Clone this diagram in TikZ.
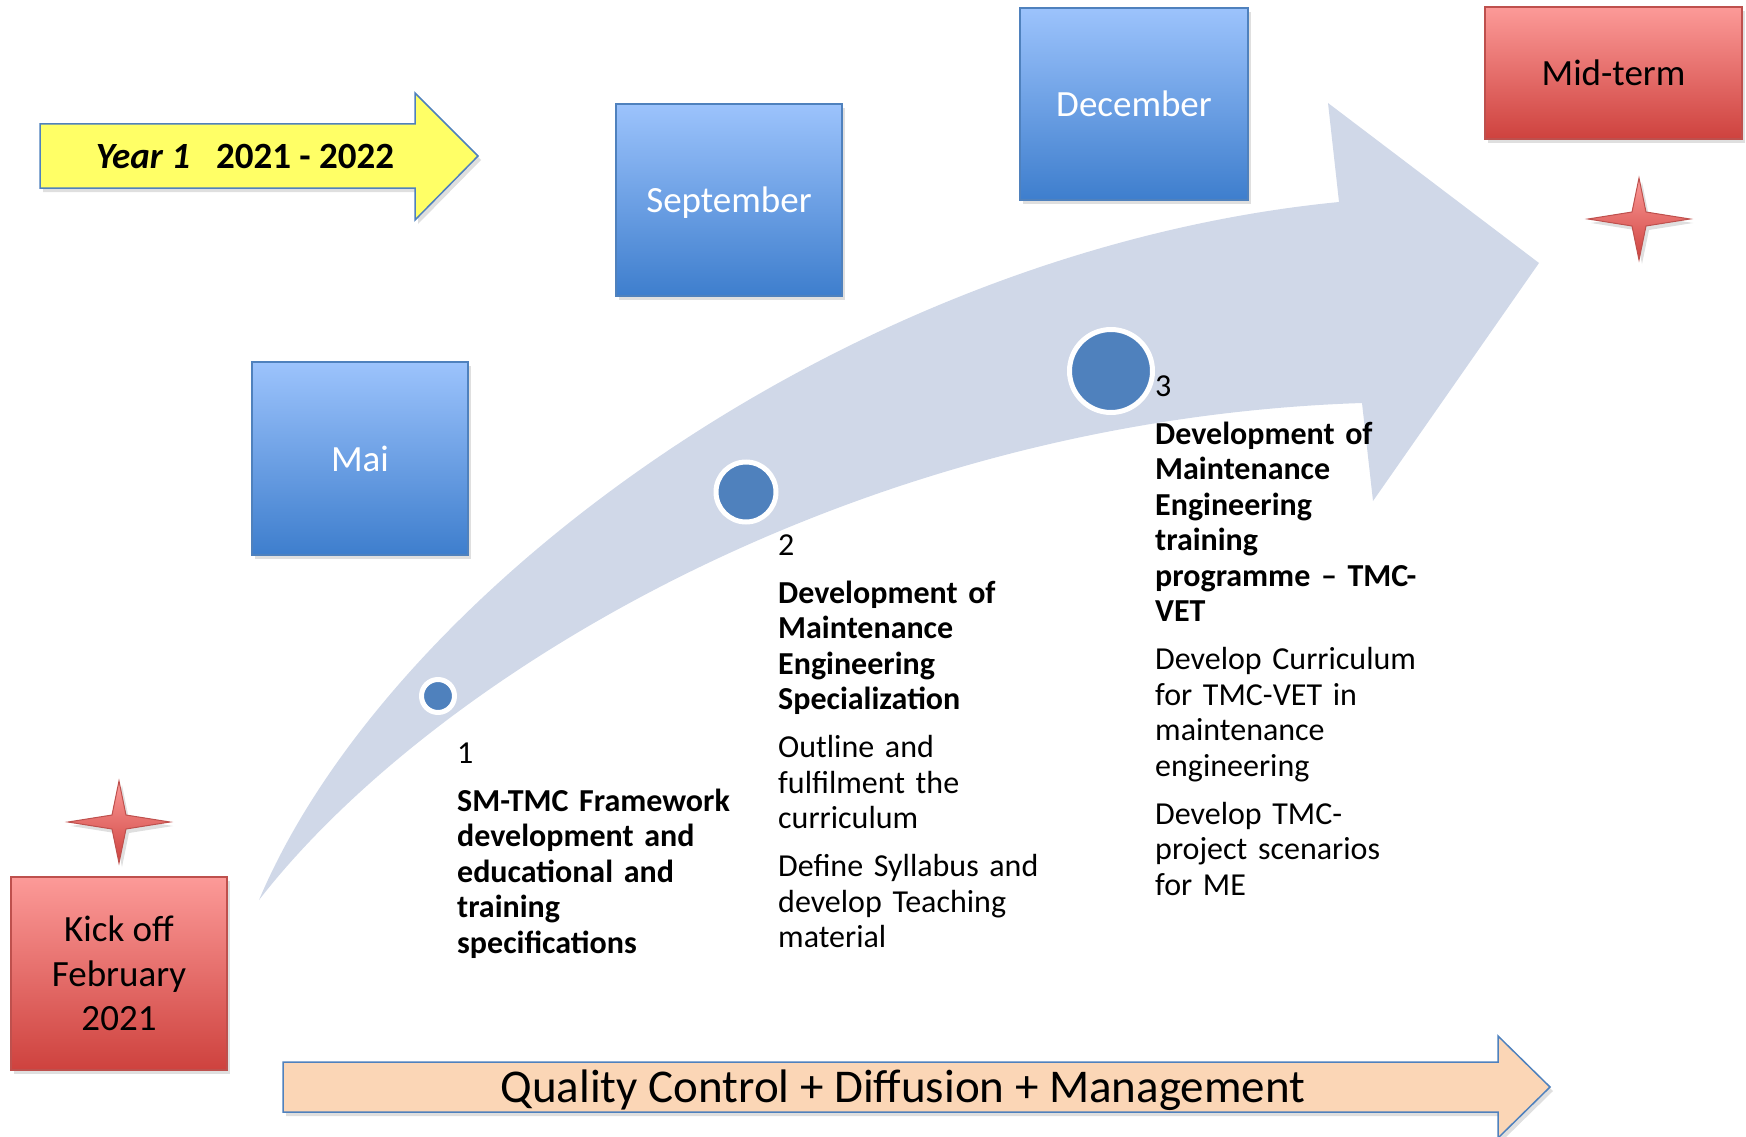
\documentclass[tikz,border=0pt]{standalone}
\usepackage{fontspec}
\setmainfont{Carlito}
\usetikzlibrary{shadows}

\definecolor{flowgray}{RGB}{208,216,232}
\definecolor{dotblue}{RGB}{79,129,189}
\definecolor{boxline}{RGB}{79,129,189}
\definecolor{bluetop}{RGB}{156,195,252}
\definecolor{bluebot}{RGB}{62,126,205}
\definecolor{redtop}{RGB}{252,154,152}
\definecolor{redbot}{RGB}{206,66,62}
\definecolor{redline}{RGB}{190,80,77}
\definecolor{sunyellow}{RGB}{255,255,102}
\definecolor{peach}{RGB}{251,214,182}

\def\fourstar(#1){\draw[redstar, shift={(#1)}] (-51,0) -- (-7,-7) -- (0,-41) -- (7,-7) -- (51,0) -- (7,7) -- (0,41) -- (-7,7) -- cycle;}

\tikzset{
	softshadow/.style={drop shadow={opacity=.25, shadow xshift=3pt, shadow yshift=-4pt}},
	monthbox/.style={draw=boxline, line width=1.5pt, top color=bluetop, bottom color=bluebot, text=white, font=\fontsize{37}{44}\selectfont, inner sep=0pt, text depth=0pt, softshadow},
	redbox/.style={draw=redline, line width=1.5pt, top color=redtop, bottom color=redbot, font=\fontsize{37}{44.5}\selectfont, inner sep=0pt, softshadow},
	redstar/.style={draw=redline, line width=1pt, top color=redtop, bottom color=redbot, softshadow},
	dot/.style={circle, fill=dotblue, draw=white, line width=5pt, inner sep=0pt},
	steptext/.style={anchor=base west, inner sep=0pt, text width=300pt, align=left, font=\fontsize{32}{35.5}\selectfont},
	bandarrow/.style={draw=boxline, line width=1.5pt, line join=miter, softshadow}
}

\begin{document}
\begin{tikzpicture}[x=1pt, y=-1pt]
			%%%%% START %%%%%
			\useasboundingbox (0,0) rectangle (1746,1137);
			
			% big curved arrow
			\fill[flowgray] (259,900) .. controls (390,590) and (850,250) .. (1339,202) -- (1328,103) -- (1539,263) -- (1373,501) -- (1362,403) .. controls (850,420) and (430,680) .. (259,900) -- cycle;
			
			\node[dot, minimum size=33pt] (d1) at (438,696) {};
			\node[dot, minimum size=60pt] (d2) at (746,492) {};
			\node[dot, minimum size=83pt] (d3) at (1111,371) {};
			
			% year arrow
			\draw[bandarrow, fill=sunyellow] (40,124) -- (415,124) -- (415,93) -- (478,156) -- (415,220) -- (415,188) -- (40,188) -- cycle;
			\node[font=\fontsize{37}{44}\selectfont\bfseries] (year) at (245,157) {\textit{Year 1}\hspace{26pt}2021 - 2022};
			
			\node[monthbox, minimum width=216pt, minimum height=193pt] (mai) at (360,458.5) {Mai};
			\node[monthbox, minimum width=226pt, minimum height=192pt] (sep) at (729,200) {September};
			\node[monthbox, minimum width=228pt, minimum height=192pt] (dec) at (1134,104) {December};
			
			\node[redbox, text depth=0pt, minimum width=257pt, minimum height=132pt] (mid) at (1613.5,73) {Mid-term};
			\node[redbox, align=center, minimum width=216pt, minimum height=193pt] (kick) at (119,973.5) {Kick off\\February\\2021};
			
			\fourstar(119,822);
			\fourstar(1639,219);
			
			\node[steptext] (s1) at (457,763) {1\\[12.5pt]\bfseries SM-TMC Framework\\development and\\educational and\\training\\specifications};
			\node[steptext] (s2) at (778,555) {2\\[12.5pt]\bfseries Development of\\Maintenance\\Engineering\\Specialization\\[12.5pt]\mdseries Outline and\\fulfilment the\\curriculum\\[12.5pt]Define Syllabus and\\develop Teaching\\material};
			\node[steptext] (s3) at (1155,396) {3\\[12.5pt]\bfseries Development of\\Maintenance\\Engineering\\training\\programme – TMC-\\VET\\[12.5pt]\mdseries Develop Curriculum\\for TMC-VET in\\maintenance\\engineering\\[12.5pt]Develop TMC-\\project scenarios\\for ME};
			
			% bottom arrow
			\draw[bandarrow, fill=peach] (283,1062) -- (1498,1062) -- (1498,1036) -- (1550,1087) -- (1498,1138) -- (1498,1112) -- (283,1112) -- cycle;
			\node[anchor=base, font=\fontsize{47}{56}\selectfont] (qcdm) at (903,1102) {Quality Control + Diffusion + Management};
			
			%%%%% END %%%%%
\end{tikzpicture}
\end{document}
